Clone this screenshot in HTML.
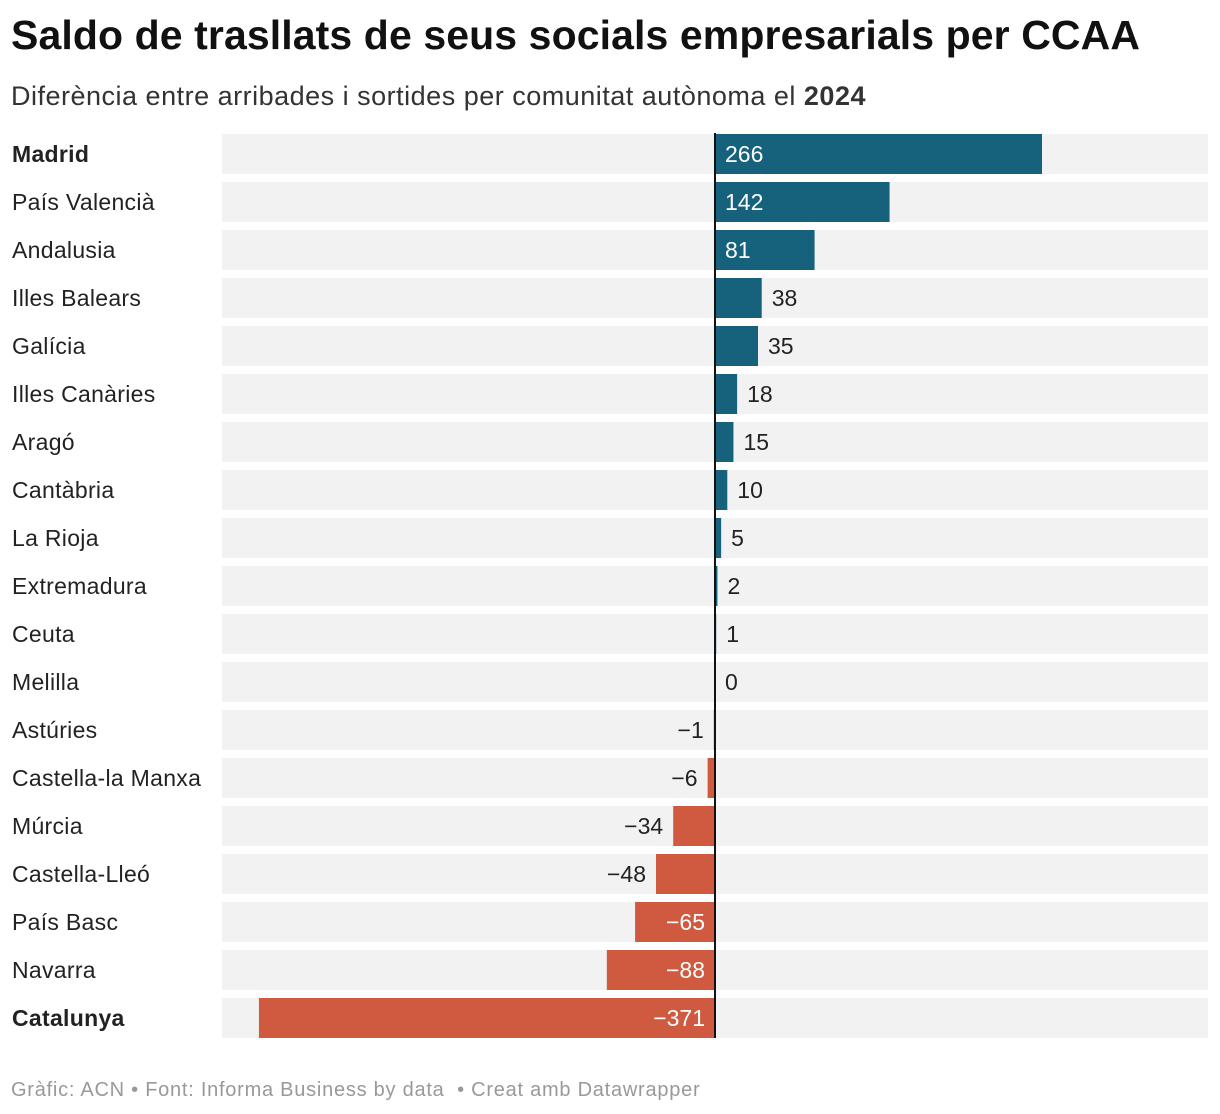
<!DOCTYPE html>
<html><head><meta charset="utf-8">
<style>
body{margin:0;width:1220px;height:1114px;background:#fff;font-family:"Liberation Sans",sans-serif;position:relative;overflow:hidden}
#title{position:absolute;left:11px;top:12px;font-size:41px;font-weight:bold;color:#111;margin:0;letter-spacing:0.1px}
#sub{position:absolute;left:11px;top:81px;font-size:27px;color:#333;letter-spacing:0.5px}
#foot{position:absolute;left:11px;top:1079px;font-size:20px;color:#999;letter-spacing:0.75px}
svg{position:absolute;left:0;top:0}
</style></head><body>
<h1 id="title">Saldo de trasllats de seus socials empresarials per CCAA</h1>
<div id="sub">Diferència entre arribades i sortides per comunitat autònoma el <b>2024</b></div>
<svg id="chart" width="1220" height="1114"></svg>
<div id="foot">Gràfic: ACN • Font: Informa Business by data &nbsp;• Creat amb Datawrapper</div>
<script>
const categories=["Madrid","País Valencià","Andalusia","Illes Balears","Galícia","Illes Canàries","Aragó","Cantàbria","La Rioja","Extremadura","Ceuta","Melilla","Astúries","Castella-la Manxa","Múrcia","Castella-Lleó","País Basc","Navarra","Catalunya"];
const values=[266,142,81,38,35,18,15,10,5,2,1,0,-1,-6,-34,-48,-65,-88,-371];
const boldCats=["Madrid","Catalunya"];
const svg=document.getElementById('chart');
const NS='http://www.w3.org/2000/svg';
const x0=715,scale=(1042-715)/266,plotL=222,plotR=1208,top0=134,pitch=48,bh=40;
const x=v=>x0+v*scale;
function mk(t,a){const e=document.createElementNS(NS,t);for(const k in a)e.setAttribute(k,a[k]);svg.appendChild(e);return e;}
categories.forEach((c,i)=>{
  const y=top0+i*pitch,v=values[i];
  const bg=mk('rect',{x:plotL,y:y,width:plotR-plotL,height:bh,fill:'#f2f2f2'});
  
  
  const lab=mk('text',{x:12,y:y+28,'font-size':23,'letter-spacing':0.3,fill:'#222','font-weight':boldCats.includes(c)?'bold':'normal'});
  lab.textContent=c;
  
  
  const xa=Math.min(x(v),x0),w=Math.abs(x(v)-x0);
  const r=mk('rect',{x:xa,y:y,width:w,height:bh,fill:v>=0?'#16627c':'#d05a3f'});
  
  
  const txt=(v<0?'−':'')+Math.abs(v);
  const inside=w>60;
  let tx,anchor,col;
  if(v>=0){anchor='start';tx=inside?x0+10:x(v)+10;col=inside?'#fff':'#222';}
  else{anchor='end';tx=inside?x0-10:x(v)-10;col=inside?'#fff':'#222';}
  const vl=mk('text',{x:tx,y:y+28,'font-size':23,fill:col,'text-anchor':anchor});
  vl.textContent=txt;
  
  
});
const ax=mk('line',{x1:x0,x2:x0,y1:top0-1,y2:top0+18*pitch+bh,stroke:'#111','stroke-width':2});


</script>
</body></html>
